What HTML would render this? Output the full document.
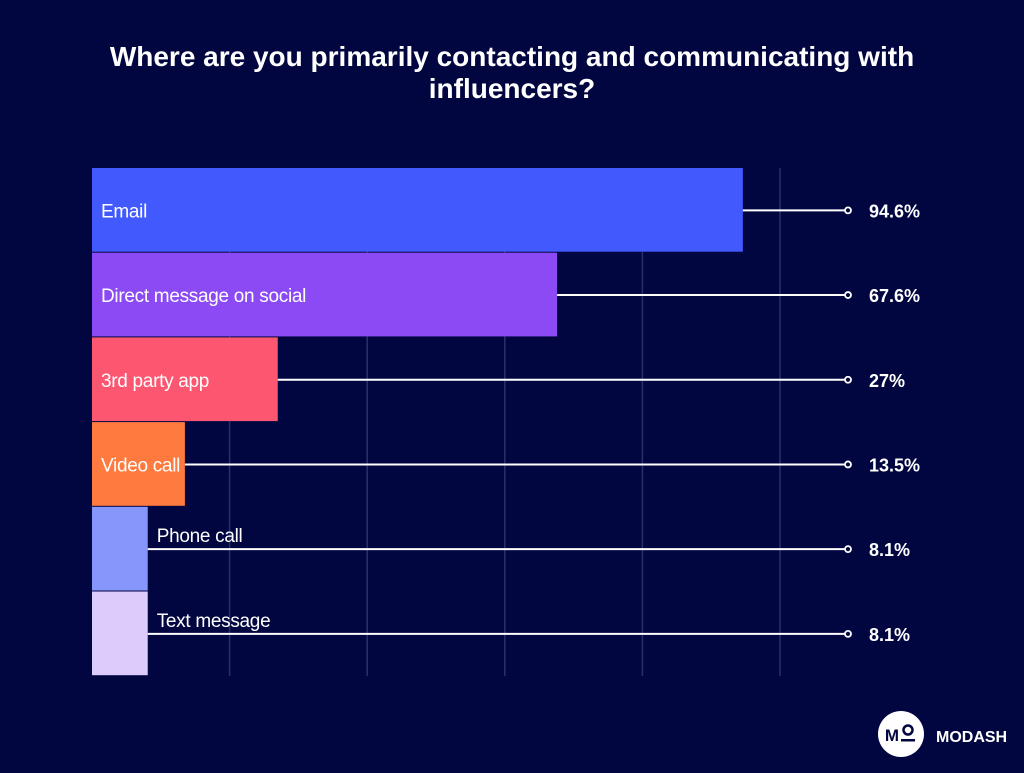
<!DOCTYPE html>
<html><head><meta charset="utf-8"><style>
body{margin:0;background:#020640;width:1024px;height:768px;overflow:hidden;font-family:"Liberation Sans",sans-serif}
</style></head><body>
<svg width="1024" height="768">
<rect width="1024" height="768" fill="#020640"/>
<text x="512" y="66" text-anchor="middle" fill="#fff" font-weight="bold" font-size="28">Where are you primarily contacting and communicating with</text>
<text x="512" y="98" text-anchor="middle" fill="#fff" font-weight="bold" font-size="28">influencers?</text>
<g id="grid"></g><g id="bars"></g>
<g>
<circle cx="901" cy="734" r="23" fill="#fff"/>
<text x="892" y="741" text-anchor="middle" fill="#020640" font-weight="bold" font-size="17">M</text>
<circle cx="908" cy="730" r="4.5" fill="none" stroke="#020640" stroke-width="2.5"/>
<rect x="901" y="739" width="14" height="2.5" fill="#020640"/>
<text x="936" y="742" fill="#fff" font-weight="bold" font-size="16">MODASH</text>
</g>
</svg>
<script>
const categories=["Email","Direct message on social","3rd party app","Video call","Phone call","Text message"];
const values=[94.6,67.6,27,13.5,8.1,8.1];
const valueLabels=["94.6%","67.6%","27%","13.5%","8.1%","8.1%"];
const colors=["#4159fd","#8b4af3","#fd5670","#ff7a3e","#8696fb","#dccbfb"];
const gridTicks=[20,40,60,80,100];
const NS="http://www.w3.org/2000/svg";
const x0=92,pxPer=6.88,top0=168,rowH=84.7;
const xs=v=>x0+v*pxPer;
function mk(tag,at,parent){const e=document.createElementNS(NS,tag);for(const k in at)e.setAttribute(k,at[k]);parent.appendChild(e);return e;}
const g=document.getElementById('grid'),b=document.getElementById('bars');
gridTicks.forEach(t=>{const l=mk('line',{x1:xs(t),x2:xs(t),y1:top0,y2:676,stroke:'#2a2f6a','stroke-width':1.5},g);

});
categories.forEach((c,i)=>{
 const y=top0+i*rowH,w=values[i]*pxPer;
 const r=mk('rect',{x:x0,y:y,width:w,height:rowH-1,fill:colors[i]},b);
 
 
 const inside=w>80;
 const ly=y+rowH/2;
 const lbl=mk('text',{x:inside?x0+9:xs(values[i])+9,y:inside?ly+7:ly-7,fill:'#fff','font-size':19,'letter-spacing':'-0.3'},b);
 lbl.textContent=c;
 
 
 const ln=mk('line',{x1:xs(values[i]),x2:845,y1:ly,y2:ly,stroke:'#fff','stroke-width':2},b);
 
 
 const ci=mk('circle',{cx:848,cy:ly,r:3,fill:'#020640',stroke:'#fff','stroke-width':1.8},b);
 
 
 const v=mk('text',{x:869,y:ly+7,fill:'#fff','font-size':18,'font-weight':'bold'},b);
 v.textContent=valueLabels[i];
 
 
});
</script>
</body></html>
